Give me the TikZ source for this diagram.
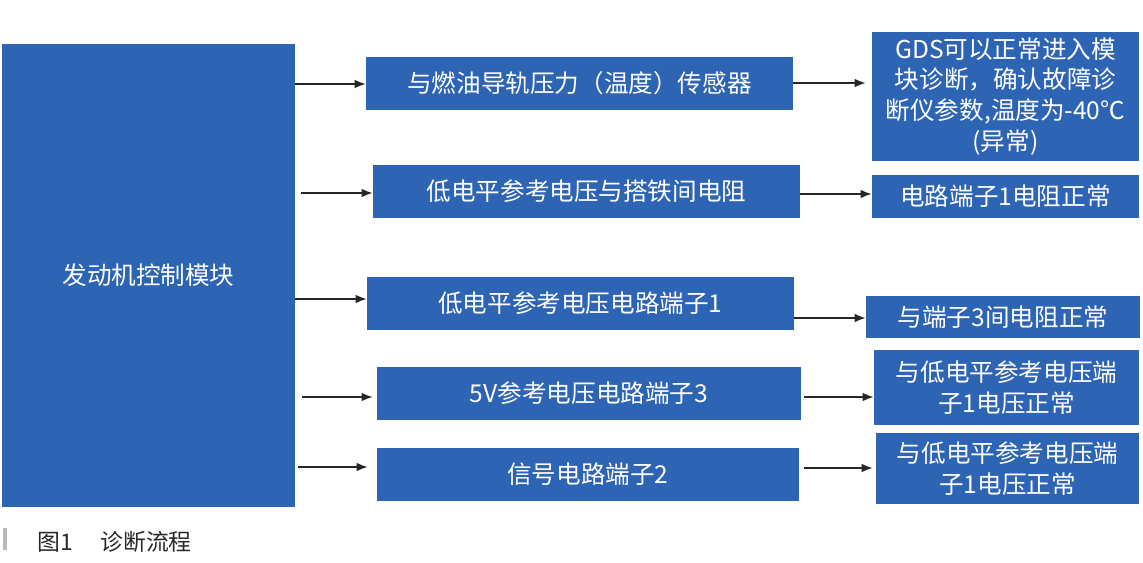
\documentclass[tikz,border=0pt]{standalone}
\usepackage{fontspec}
\setmainfont{Noto Sans CJK SC}
\usetikzlibrary{arrows.meta,calc}

\definecolor{boxblue}{RGB}{46,100,180}
\definecolor{capgray}{RGB}{40,40,40}

\begin{document}
\begin{tikzpicture}[x=0.02cm,y=-0.02cm,
  box/.style={fill=boxblue,text=white,inner sep=0pt,align=center,font=\fontsize{14}{17.6}\selectfont},
  arr/.style={-{Latex[length=0.22cm,width=0.17cm]},line width=0.8pt,draw=black!85}]
  \useasboundingbox (0,0) rectangle (1143,562);
  % Engine control module
  \node[box,minimum width=5.86cm,minimum height=9.26cm] (ecm) at (148.5,275.5) {发动机控制模块};
  % Items checked
  \node[box,minimum width=8.54cm,minimum height=1.06cm] (sensor) at (579.5,83.5) {与燃油导轨压力（温度）传感器};
  \node[box,minimum width=8.54cm,minimum height=1.06cm] (lowref) at (586.5,191.5) {低电平参考电压与搭铁间电阻};
  \node[box,minimum width=8.54cm,minimum height=1.06cm] (lowterm) at (580.5,303.5) {低电平参考电压电路端子1};
  \node[box,minimum width=8.48cm,minimum height=1.06cm] (fiveref) at (589,393.5) {5V参考电压电路端子3};
  \node[box,minimum width=8.44cm,minimum height=1.06cm] (signal) at (588,474.5) {信号电路端子2};
  % Results
  \node[box,minimum width=5.34cm,minimum height=2.58cm] (gds) at (1005.5,96.5)
    {GDS可以正常进入模\\块诊断，确认故障诊\\断仪参数,温度为-40℃\\(异常)};
  \node[box,minimum width=5.34cm,minimum height=0.86cm] (res1) at (1005.5,196.5) {电路端子1电阻正常};
  \node[box,minimum width=5.48cm,minimum height=0.84cm] (res3) at (1003,317) {与端子3间电阻正常};
  \node[box,minimum width=5.30cm,minimum height=1.50cm] (volt1) at (1006.5,387.5) {与低电平参考电压端\\子1电压正常};
  \node[box,minimum width=5.26cm,minimum height=1.42cm] (volt2) at (1007.5,468.5) {与低电平参考电压端\\子1电压正常};
  % Arrows from module
  \draw[arr] (ecm.east |- 0,84) -- (sensor.west |- 0,84);
  \draw[arr] ($(ecm.east |- 0,193)+(6,0)$) -- (lowref.west |- 0,193);
  \draw[arr] (ecm.east |- 0,299) -- (lowterm.west |- 0,299);
  \draw[arr] ($(ecm.east |- 0,397)+(7,0)$) -- ($(fiveref.west |- 0,397)+(-4,0)$);
  \draw[arr] ($(ecm.east |- 0,467)+(3,0)$) -- ($(signal.west |- 0,467)+(-9,0)$);
  % Arrows to results
  \draw[arr] (sensor.east |- 0,83) -- ($(gds.west |- 0,83)+(-6,0)$);
  \draw[arr] (lowref.east |- 0,194) -- (res1.west |- 0,194);
  \draw[arr] (lowterm.east |- 0,318) -- (res3.west |- 0,318);
  \draw[arr] ($(fiveref.east |- 0,397)+(3,0)$) -- (volt1.west |- 0,397);
  \draw[arr] ($(signal.east |- 0,468)+(5,0)$) -- ($(volt2.west |- 0,468)+(-3,0)$);
  % Caption
  \fill[gray!55] (3,528) rectangle (7,550);
  \node[anchor=west,inner sep=0pt,text=capgray,font=\fontsize{13}{15}\selectfont] (cap) at (37,542) {图1\hspace{0.55cm}诊断流程};
\end{tikzpicture}
\end{document}
